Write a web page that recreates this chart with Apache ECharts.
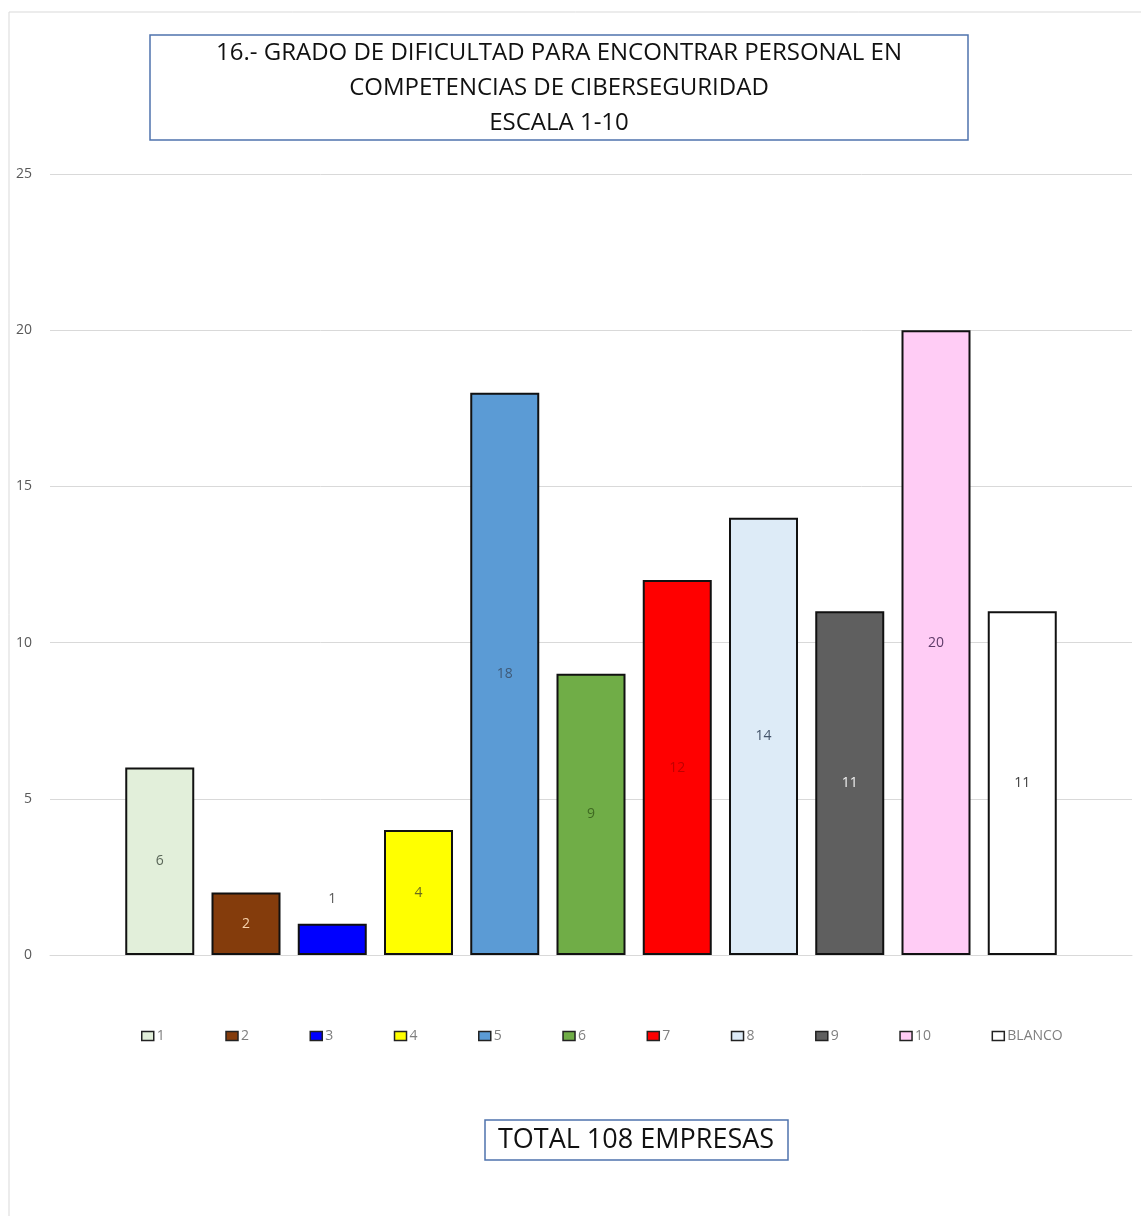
<!DOCTYPE html>
<html>
<head>
<meta charset="utf-8">
<title>Grado de dificultad</title>
<script src="https://cdn.jsdelivr.net/npm/echarts@6/dist/echarts.min.js"></script>
<style>
  html, body { margin: 0; padding: 0; background: #fff; }
  #chart { width: 1141px; height: 1216px; }
</style>
</head>
<body>
<div id="chart"></div>
<script>
// escala 1-10 + blanco
const seriesNames = ["1", "2", "3", "4", "5", "6", "7", "8", "9", "10", "BLANCO"];
const values = [6, 2, 1, 4, 18, 9, 12, 14, 11, 20, 11];
const barColors = ["#e2efda", "#843c0c", "#0000ff", "#ffff00", "#5b9bd5", "#70ad47",
  "#ff0000", "#ddebf7", "#5f5f5f", "#ffccf5", "#ffffff"];
const labelColors = ["#5a6658", "#f8d3ad", "#595959", "#6b6b1e", "#3f5a78", "#3f6a22",
  "#c00000", "#44546a", "#f2f2f2", "#5e3b68", "#404040"];
const yMin = 0, yMax = 25, yStep = 5;

const titleLines = [
  "16.- GRADO DE DIFICULTAD PARA ENCONTRAR PERSONAL EN",
  "COMPETENCIAS DE CIBERSEGURIDAD",
  "ESCALA 1-10"
];
const footerText = "TOTAL 108 EMPRESAS";

const chart = echarts.init(document.getElementById("chart"));

const series = seriesNames.map((name, i) => ({
  name: name,
  type: "bar",
  data: [values[i]],
  barWidth: 69,
  barGap: "25%",
  itemStyle: { color: barColors[i], borderColor: "#111", borderWidth: 2 },
  label: {
    show: true,
    // la barra de valor 1 lleva la etiqueta encima
    position: values[i] < 2 ? "top" : "inside",
    distance: 18,
    color: labelColors[i],
    fontSize: 14,
    fontFamily: "Open Sans",
  },
}));

const option = {
  backgroundColor: "#fff",
  animation: false,
  grid: { left: 50, right: 9, top: 174, bottom: 261 },
  legend: {
    data: seriesNames,
    left: 136,
    top: 1024,
    itemWidth: 12,
    itemHeight: 9,
    itemGap: 60.5,
    icon: "rect",
    itemStyle: { borderWidth: 1.5, borderColor: "#222" },
    textStyle: { color: "#7f7f7f", fontSize: 14, fontFamily: "Open Sans", padding: [0, 0, 0, -2] },
  },
  xAxis: {
    type: "category",
    data: [""],
    axisLine: { lineStyle: { color: "#d9d9d9" } },
    axisTick: { show: false },
    axisLabel: { show: false },
  },
  yAxis: {
    type: "value",
    min: yMin,
    max: yMax,
    interval: yStep,
    axisLine: { show: false },
    axisTick: { show: false },
    axisLabel: { color: "#595959", fontSize: 14, margin: 18, fontFamily: "Open Sans" },
    splitLine: { lineStyle: { color: "#d9d9d9" } },
  },
  graphic: [
    {
      type: "rect",
      shape: { x: 9, y: 12, width: 1140, height: 1210 },
      style: { fill: null, stroke: "#d9d9d9", lineWidth: 1 },
      silent: true,
    },
    {
      type: "rect",
      shape: { x: 150, y: 35, width: 818, height: 105 },
      style: { fill: "#fff", stroke: "#4f73ad", lineWidth: 1.5 },
      z: 10,
    },
    ...titleLines.map((t, i) => ({
      type: "text",
      x: 559,
      y: 53 + i * 35,
      style: {
        text: t,
        fill: "#111",
        font: "24px 'Open Sans', sans-serif",
        align: "center",
        verticalAlign: "middle",
      },
      z: 11,
    })),
    {
      type: "rect",
      shape: { x: 485, y: 1120, width: 303, height: 40 },
      style: { fill: "#fff", stroke: "#4f73ad", lineWidth: 1.5 },
      z: 10,
    },
    {
      type: "text",
      x: 636,
      y: 1140,
      style: {
        text: footerText,
        fill: "#111",
        font: "27px 'Open Sans', sans-serif",
        align: "center",
        verticalAlign: "middle",
      },
      z: 11,
    },
  ],
  series: series,
};

chart.setOption(option);
</script>
</body>
</html>
